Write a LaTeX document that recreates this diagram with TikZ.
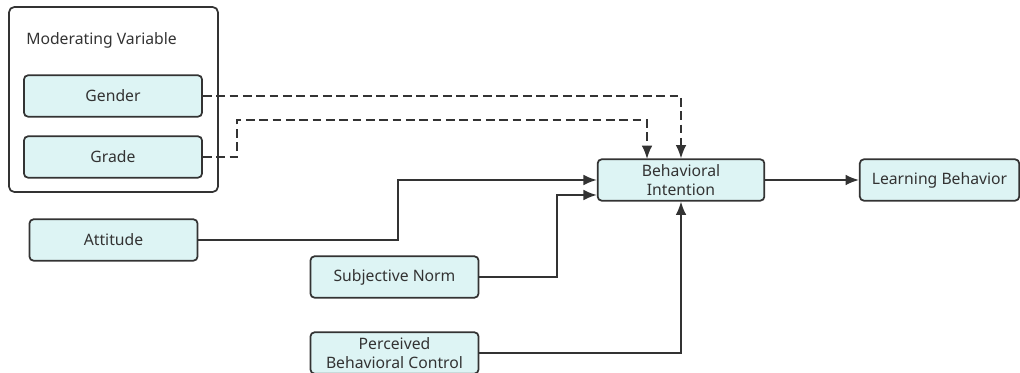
\documentclass[tikz,border=0pt]{standalone}
\usepackage{fontspec}
\setmainfont{Noto Sans}
\usetikzlibrary{arrows.meta}
\definecolor{boxfill}{HTML}{DDF4F4}
\definecolor{linec}{HTML}{333333}
\definecolor{txt}{HTML}{333333}
\begin{document}
\begin{tikzpicture}[x=0.75pt,y=-0.75pt,
  box/.style={draw=linec,fill=boxfill,line width=1.3pt,rounded corners=3pt,
    minimum width=126pt,minimum height=31pt,inner sep=1pt,align=center,
    text=txt,font=\fontsize{11.8}{14.5}\selectfont},
  conn/.style={draw=linec,line width=1.3pt,-{Latex[length=10pt,width=8pt]}},
  dconn/.style={conn,dash pattern=on 6.5pt off 3.5pt}]
\useasboundingbox (0,0) rectangle (1020,373);
\node[draw=linec,line width=1.3pt,rounded corners=4pt,minimum width=156.75pt,minimum height=138.75pt,inner sep=0pt] (mod) at (113.5,99.5) {};
\node[anchor=west,text=txt,font=\fontsize{11.8}{14}\selectfont,inner sep=0pt] (modlab) at (26,40) {Moderating Variable};
\node[box,minimum width=133.5pt] (gender) at (113,96) {Gender};
\node[box,minimum width=133.5pt] (grade) at (113,157) {Grade};
\node[box] (att) at (113.5,240) {Attitude};
\node[box] (sn) at (394.5,277) {Subjective Norm};
\node[box] (pbc) at (394.5,353) {Perceived\\Behavioral Control};
\node[box,minimum width=125pt] (bi) at (681,180) {Behavioral\\Intention};
\node[box,minimum width=119.5pt] (lb) at (939.5,180) {Learning Behavior};
\coordinate (g1) at (237,120);
\coordinate (gt) at (647,159);
\coordinate (a1) at (398,180);
\coordinate (s1) at (557,195);
\draw[dconn] (gender.east) -| (bi.north);
\draw[dconn] (grade.east) -| (g1) -| (gt);
\draw[conn] (att.east) -| (a1) -- (bi.west);
\draw[conn] (sn.east) -| (s1) -- (s1 -| bi.west);
\draw[conn] (pbc.east) -| (bi.south);
\draw[conn] (bi.east) -- (lb.west);
\end{tikzpicture}
\end{document}
